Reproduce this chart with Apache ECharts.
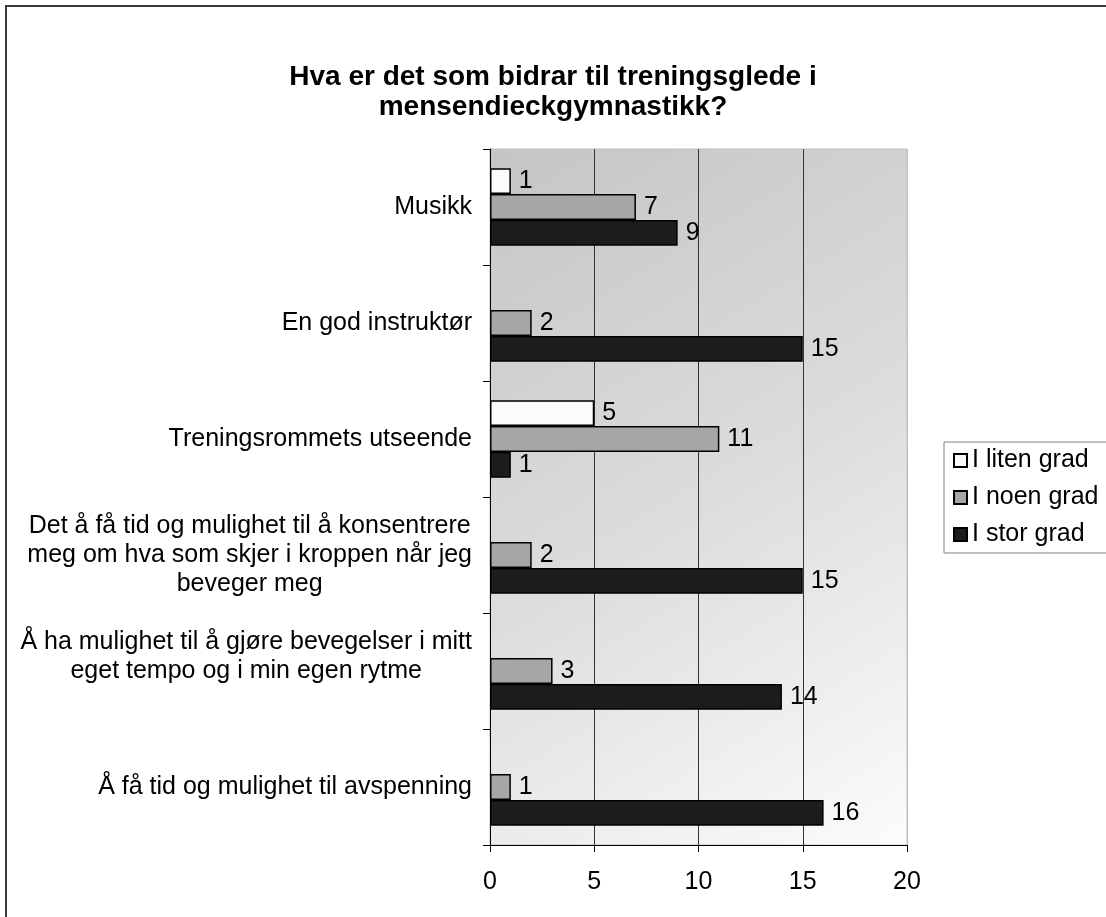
<!DOCTYPE html>
<html>
<head>
<meta charset="utf-8">
<script src="https://cdn.jsdelivr.net/npm/echarts@6/dist/echarts.min.js"></script>
<style>
html,body{margin:0;padding:0;background:#fff;}
#c{width:1106px;height:917px;}
</style>
</head>
<body>
<div id="c"></div>
<script>
const titleText = 'Hva er det som bidrar til treningsglede i\nmensendieckgymnastikk?';
const categories = [
  'Musikk',
  'En god instruktør',
  'Treningsrommets utseende',
  'Det å få tid og mulighet til å konsentrere\nmeg om hva som skjer i kroppen når jeg\nbeveger meg',
  'Å ha mulighet til å gjøre bevegelser i mitt\neget tempo og i min egen rytme\n ',
  'Å få tid og mulighet til avspenning'
];
const seriesNames = ['I liten grad', 'I noen grad', 'I stor grad'];
const litenGrad = [1, null, 5, null, null, null];
const noenGrad = [7, 2, 11, 2, 3, 1];
const storGrad = [9, 15, 1, 15, 14, 16];
const xTicks = [0, 5, 10, 15, 20];

const font = 'Liberation Sans, Arial, sans-serif';
const colors = ['#fbfbfb', '#a6a6a6', '#1c1c1c'];
const dataSets = [litenGrad, noenGrad, storGrad];

const chart = echarts.init(document.getElementById('c'), null, {renderer: 'canvas'});

const series = seriesNames.map((name, i) => ({
  name: name,
  type: 'bar',
  data: dataSets[i],
  barGap: '0%',
  barCategoryGap: '33%',
  itemStyle: {color: colors[i], borderColor: '#000', borderWidth: 1.5},
  label: {
    show: true,
    position: 'right',
    distance: 8,
    color: '#000',
    fontFamily: font,
    fontSize: 25
  },
  emphasis: {disabled: true}
}));

chart.setOption({
  animation: false,
  backgroundColor: '#fff',
  title: {
    text: titleText,
    left: 'center',
    top: 57,
    textStyle: {fontFamily: font, fontSize: 28, fontWeight: 'bold', color: '#000', lineHeight: 30}
  },
  graphic: [{
    type: 'rect',
    shape: {x: 6, y: 6, width: 1200, height: 1000},
    style: {fill: 'none', stroke: '#3a3a3a', lineWidth: 2},
    silent: true,
    z: 100
  }],
  legend: {
    orient: 'vertical',
    left: 944,
    top: 442,
    itemWidth: 13,
    itemHeight: 13,
    itemGap: 12,
    padding: [6, 10, 6, 9],
    borderColor: '#808080',
    borderWidth: 1,
    backgroundColor: '#fff',
    icon: 'rect',
    textStyle: {fontFamily: font, fontSize: 25, color: '#000'},
    data: seriesNames
  },
  grid: {
    left: 490, right: 199, top: 149, bottom: 72,
    containLabel: false,
    show: true,
    borderColor: '#c0c0c0',
    borderWidth: 1,
    backgroundColor: new echarts.graphic.LinearGradient(0, 0, 1, 1, [
      {offset: 0, color: '#c5c5c5'},
      {offset: 0.5, color: '#dcdcdc'},
      {offset: 1, color: '#fcfcfc'}
    ])
  },
  xAxis: {
    type: 'value',
    min: xTicks[0],
    max: xTicks[xTicks.length - 1],
    interval: 5,
    axisLine: {show: true, lineStyle: {color: '#000', width: 1}},
    axisTick: {show: true, length: 7, lineStyle: {color: '#000'}},
    axisLabel: {margin: 25, color: '#000', fontFamily: font, fontSize: 25},
    splitLine: {show: true, lineStyle: {color: ['#333', '#333', '#333', '#333', '#c0c0c0'], width: 1}}
  },
  yAxis: {
    type: 'category',
    inverse: true,
    data: categories,
    axisLine: {show: true, lineStyle: {color: '#000', width: 1}},
    axisTick: {show: true, length: 7, lineStyle: {color: '#000'}},
    axisLabel: {
      margin: 18,
      color: '#000',
      fontFamily: font,
      fontSize: 25,
      lineHeight: 29,
      formatter: function (v) { return '{c|' + v + '}'; },
      rich: {c: {align: 'center', fontFamily: font, fontSize: 25, lineHeight: 29, color: '#000'}}
    },
    splitLine: {show: false}
  },
  series: series
});
</script>
</body>
</html>
